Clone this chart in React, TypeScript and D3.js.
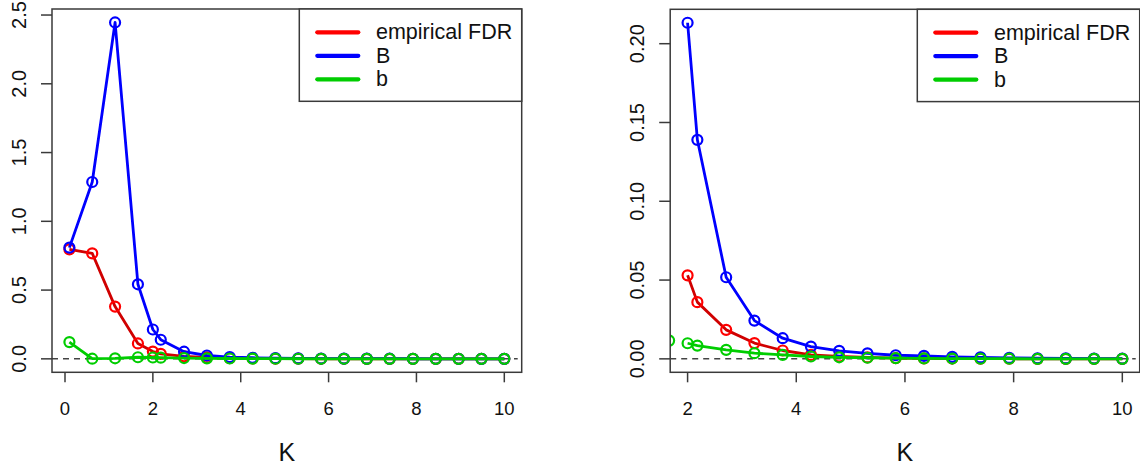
import React from 'react';
import * as d3 from 'd3';

const kValues = [0.1, 0.62, 1.14, 1.66, 2.0, 2.18, 2.71, 3.23, 3.75, 4.27, 4.79, 5.31, 5.83, 6.35, 6.87, 7.39, 7.92, 8.44, 8.96, 9.48, 10];

const empiricalFDR = [0.796, 0.767, 0.38, 0.112, 0.053, 0.036, 0.0184, 0.01, 0.0053, 0.0025, 0.0015, 0.0009, 0.0005, 0.0003, 0.0002, 0.0001, 0.0001, 0, 0, 0, 0];
const bigB = [0.809, 1.286, 2.446, 0.542, 0.2133, 0.139, 0.0518, 0.0243, 0.0131, 0.0078, 0.0051, 0.0035, 0.0023, 0.0019, 0.0013, 0.0009, 0.0006, 0.0004, 0.0003, 0.0002, 0.0001];
const smallB = [0.122, 0.001, 0.004, 0.0116, 0.0099, 0.0084, 0.0057, 0.0036, 0.0025, 0.0015, 0.001, 0.0007, 0.0005, 0.0003, 0.0002, 0.0001, 0.0001, 0, 0, 0, 0];

const seriesNames = ['empirical FDR', 'B', 'b'];
const seriesColors = ['#ff0000', '#0000ff', '#00cd00'];
const lineColors = ['#d00000', '#0000ff', '#00cd00'];
const seriesValues = [empiricalFDR, bigB, smallB];

const FONT = '"Liberation Sans", Arial, Helvetica, sans-serif';
const INK = '#111';

interface PanelProps {
  id: string;
  left: number;
  right: number;
  top: number;
  bottom: number;
  start: number; // first index drawn with lines
  yFmt: string;
}

// R style 4% axis extension
const extend = (lo: number, hi: number): [number, number] => {
  const d = (hi - lo) * 0.04;
  return [lo - d, hi + d];
};

const Panel: React.FC<PanelProps> = ({ id, left, right, top, bottom, start, yFmt }) => {
  const ks = kValues.slice(start);
  const xs = d3.scaleLinear().domain(extend(d3.min(ks)!, d3.max(ks)!)).range([left, right]);
  const yMax = d3.max(seriesValues.map(v => d3.max(v.slice(start))!))!;
  const ys = d3.scaleLinear().domain(extend(0, yMax)).range([bottom, top]);

  const line = d3.line<number>().x((d, i) => xs(ks[i])).y(d => ys(d));
  const fmt = d3.format(yFmt);
  const xTicks = xs.ticks(5);
  const yTicks = ys.ticks(5);
  const cx = (left + right) / 2;

  // legend geometry
  const lgW = 222.4;
  const lgH = 92.3;
  const lgX = right - lgW;
  const lgY = top;

  return (
    <g>
      <defs>
        <clipPath id={`clip-${id}`}>
          <rect x={left} y={top} width={right - left} height={bottom - top} />
        </clipPath>
      </defs>
      <g clipPath={`url(#clip-${id})`}>
        <line x1={left} x2={right - 4} y1={ys(0)} y2={ys(0)} stroke="#444" strokeWidth={1.5} strokeDasharray="6,5" />
        {seriesValues.map((vals, si) => (
          <g key={si}>
            <path d={line(vals.slice(start))!} fill="none" stroke={lineColors[si]} strokeWidth={2.8} strokeLinejoin="round" />
            {vals.map((v, i) =>
              (i >= start || (start > 0 && si === 2 && i === start - 1)) ? (
                <circle key={i} cx={xs(kValues[i])} cy={ys(v)} r={5} fill="none" stroke={seriesColors[si]} strokeWidth={2.2} />
              ) : null
            )}
          </g>
        ))}
      </g>
      <rect x={left} y={top} width={right - left} height={bottom - top} fill="none" stroke="#3a3a3a" strokeWidth={1.5} />
      {xTicks.map(t => (
        <g key={t}>
          <line x1={xs(t)} x2={xs(t)} y1={bottom} y2={bottom + 10} stroke="#3a3a3a" strokeWidth={1.5} />
          <text x={xs(t)} y={408} textAnchor="middle" dominantBaseline="central" fontFamily={FONT} fontSize={18.5} fill={INK}>{t}</text>
        </g>
      ))}
      {yTicks.map(t => (
        <g key={t}>
          <line x1={left - 11} x2={left} y1={ys(t)} y2={ys(t)} stroke="#3a3a3a" strokeWidth={1.5} />
          <text transform={`translate(${left - 33.5},${ys(t)}) rotate(-90)`} textAnchor="middle" dominantBaseline="central" fontFamily={FONT} fontSize={20} fill={INK}>{fmt(t)}</text>
        </g>
      ))}
      <text x={cx} y={452} textAnchor="middle" dominantBaseline="central" fontFamily={FONT} fontSize={25} fill={INK}>K</text>
      <rect x={lgX} y={lgY} width={lgW} height={lgH} fill="#fff" stroke="#3a3a3a" strokeWidth={1.5} />
      {seriesNames.map((name, i) => (
        <g key={name}>
          <line x1={lgX + 18} x2={lgX + 59} y1={lgY + 23.3 + i * 23.5} y2={lgY + 23.3 + i * 23.5} stroke={seriesColors[i]} strokeWidth={4.2} strokeLinecap="round" />
          <text x={lgX + 76.7} y={lgY + 23.3 + i * 23.5} dominantBaseline="central" fontFamily={FONT} fontSize={21.5} fill={INK}>{name}</text>
        </g>
      ))}
    </g>
  );
};

export default function App() {
  return (
    <div style={{ position: 'absolute', left: 0, top: 0 }}>
      <svg width={1140} height={465} style={{ display: 'block', background: '#fff' }}>
        <Panel id="a" left={52} right={521.7} top={9} bottom={372.3} start={0} yFmt=".1f" />
        <Panel id="b" left={670.2} right={1139.7} top={9.3} bottom={372.3} start={4} yFmt=".2f" />
      </svg>
    </div>
  );
}
